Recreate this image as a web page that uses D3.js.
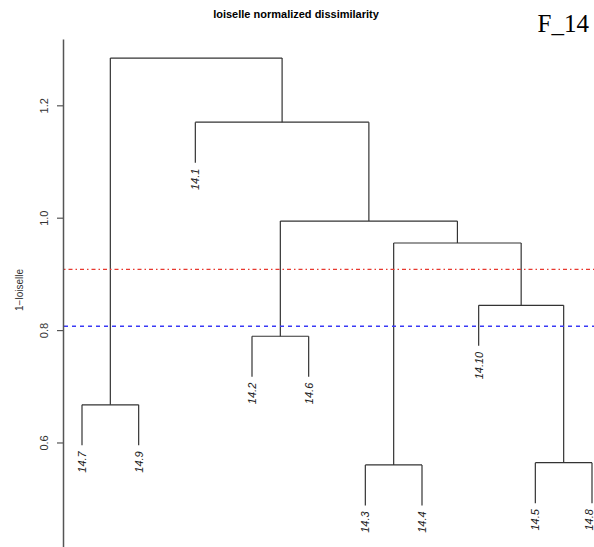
<!DOCTYPE html>
<html>
<head>
<meta charset="utf-8">
<script src="https://cdn.jsdelivr.net/npm/d3@7"></script>
<style>
  body { margin: 0; background: #fff; }
  svg { display: block; font-family: "Liberation Sans", Arial, sans-serif; }
</style>
</head>
<body>
<div id="chart"></div>
<script>
// leaf order along the x axis
let leaves = ["14.7", "14.9", "14.1", "14.2", "14.6", "14.3", "14.4", "14.10", "14.5", "14.8"];

// merges, R style: string = leaf name, number = earlier merge (1-based)
let mergeLeft  = ["14.7", "14.3", "14.5", "14.2", "14.10", 2, 4, "14.1", 1];
let mergeRight = ["14.9", "14.4", "14.8", "14.6", 3, 5, 6, 7, 8];
let mergeHeight = [0.667, 0.560, 0.564, 0.789, 0.844, 0.955, 0.994, 1.170, 1.284];

let tickValues = [0.6, 0.8, 1.0, 1.2];
let cutRed = 0.908;
let cutBlue = 0.807;
let hang = 0.072;

let width = 594, height = 547;

let svg = d3.select("#chart").append("svg")
    .attr("width", width)
    .attr("height", height);

let xScale = d3.scalePoint()
    .domain(leaves)
    .range([82, 592]);

let yScale = d3.scaleLinear()
    .domain([0.414, 1.318])
    .range([547, 39]);

// build nodes from the merge table
let nodes = mergeLeft.map((l, i) => ({ left: l, right: mergeRight[i], h: mergeHeight[i] }));

function childInfo(c) {
    if (typeof c === "string") return { x: xScale(c), leaf: true, name: c };
    let n = nodes[c - 1];
    return { x: nodeX(n), h: n.h, leaf: false };
}
function nodeX(n) {
    return (childInfo(n.left).x + childInfo(n.right).x) / 2;
}

let dendro = svg.append("g").attr("class", "dendro");
let leafLabels = svg.append("g").attr("class", "leaf-labels");

nodes.forEach(n => {
    let top = yScale(n.h);
    [n.left, n.right].forEach(c => {
        let ci = childInfo(c);
        let bottom = ci.leaf ? yScale(n.h - hang) : yScale(ci.h);
        dendro.append("line")
            .attr("x1", ci.x).attr("x2", ci.x)
            .attr("y1", top).attr("y2", bottom)
            .attr("stroke", "#333").attr("stroke-width", 1.2);
        if (ci.leaf) {
            // keep the last label inside the window
            let lx = Math.min(ci.x + 4, width - 1);
            leafLabels.append("text")
                .attr("transform", "translate(" + lx + "," + (bottom + 6) + ") rotate(-90)")
                .attr("text-anchor", "end")
                .style("font-size", "11px")
                .style("font-style", "italic")
                .attr("fill", "#222")
                .text(ci.name);
        }
    });
    dendro.append("line")
        .attr("x1", childInfo(n.left).x).attr("x2", childInfo(n.right).x)
        .attr("y1", top).attr("y2", top)
        .attr("stroke", "#333").attr("stroke-width", 1.2);
});

// cut lines
svg.append("line")
    .attr("x1", 64).attr("x2", width)
    .attr("y1", yScale(cutRed)).attr("y2", yScale(cutRed))
    .attr("stroke", "#e8382f").attr("stroke-width", 1.2)
    .attr("stroke-dasharray", "1.5,3,4,3");

svg.append("line")
    .attr("x1", 64).attr("x2", width)
    .attr("y1", yScale(cutBlue)).attr("y2", yScale(cutBlue))
    .attr("stroke", "#3a3af5").attr("stroke-width", 1.5)
    .attr("stroke-dasharray", "4,4");

// y axis
let yAxis = svg.append("g")
    .attr("transform", "translate(63,0)")
    .call(d3.axisLeft(yScale).tickValues(tickValues).tickFormat(d3.format(".1f")).tickSize(6).tickSizeOuter(0));

yAxis.select(".domain").attr("stroke", "#555").attr("stroke-width", 1.5);
yAxis.selectAll(".tick line").attr("stroke", "#555").attr("stroke-width", 1.2);
yAxis.selectAll(".tick text")
    .attr("transform", "rotate(-90)")
    .attr("x", 0).attr("y", -15).attr("dy", null)
    .attr("text-anchor", "middle")
    .attr("fill", "#333")
    .style("font-size", "11px")
    .style("font-family", "Liberation Sans, Arial, sans-serif");

svg.append("text")
    .attr("transform", "translate(23,290) rotate(-90)")
    .attr("text-anchor", "middle")
    .style("font-size", "10px")
    .attr("fill", "#333")
    .text("1\u2212loiselle");

// titles
svg.append("text")
    .attr("x", 296).attr("y", 18)
    .attr("text-anchor", "middle")
    .style("font-size", "11px")
    .style("font-weight", "bold")
    .text("loiselle normalized dissimilarity");

svg.append("text")
    .attr("x", 589).attr("y", 32)
    .attr("text-anchor", "end")
    .style("font-family", "Liberation Serif, Times New Roman, serif")
    .style("font-size", "25px")
    .text("F_14");
</script>
</body>
</html>
